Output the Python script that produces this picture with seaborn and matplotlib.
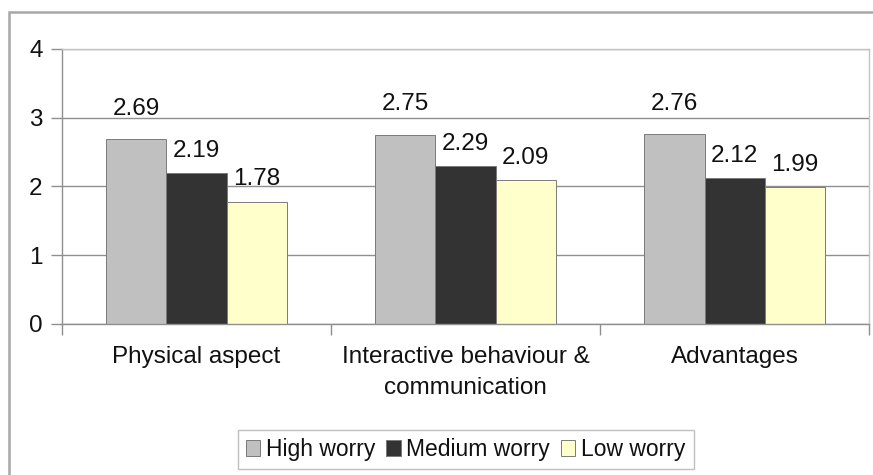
import pandas as pd
import matplotlib
matplotlib.use("Agg")
import matplotlib.pyplot as plt
from matplotlib.patches import Rectangle
import seaborn as sns

aspects = ["Physical aspect", "Interactive behaviour &\ncommunication", "Advantages"]
levels = ["High worry", "Medium worry", "Low worry"]
high = [2.69, 2.75, 2.76]
medium = [2.19, 2.29, 2.12]
low = [1.78, 2.09, 1.99]
colors = ["#c0c0c0", "#333333", "#ffffcc"]

data = pd.DataFrame({
    "aspect": aspects * 3,
    "level": [levels[0]] * 3 + [levels[1]] * 3 + [levels[2]] * 3,
    "score": high + medium + low,
})

sns.set_style("white")
plt.rcParams["font.family"] = ["Liberation Sans", "DejaVu Sans"]
fs = 17.5

fig = plt.figure(figsize=(8.73, 4.75), dpi=100)
ax = fig.add_axes([0.071, 0.318, 0.9245, 0.579])

sns.barplot(data=data, x="aspect", y="score", hue="level", palette=colors,
            saturation=1, width=0.67, edgecolor="#7a7a7a", linewidth=0.7,
            ax=ax, legend=True)

# value labels above bars
pads = [14, 8, 8]
for cont, pad in zip(ax.containers, pads):
    ax.bar_label(cont, fmt="%.2f", padding=pad, fontsize=fs, color="#111111")

ax.set_ylim(0, 4)
ax.set_xlim(-0.5, 2.5)
ax.set_yticks([0, 1, 2, 3, 4])
ax.yaxis.grid(True, color="#8f8f8f", linewidth=1)
ax.set_axisbelow(True)
ax.set_xlabel("")
ax.set_ylabel("")

ax.tick_params(axis="y", labelsize=fs, length=8, width=1, color="#8f8f8f",
               left=True, pad=6, labelcolor="#111111")
ax.tick_params(axis="x", which="major", labelsize=fs, length=0, pad=16,
               labelcolor="#111111")
ax.set_xticks([-0.5, 0.5, 1.5, 2.5], minor=True)
ax.tick_params(axis="x", which="minor", length=8, width=1, color="#8f8f8f", bottom=True)
for lbl in ax.get_xticklabels():
    lbl.set_linespacing(1.5)

for side in ["left", "bottom"]:
    ax.spines[side].set_color("#8f8f8f")
    ax.spines[side].set_linewidth(1)
for side in ["top", "right"]:
    ax.spines[side].set_color("#c4c4c4")
    ax.spines[side].set_linewidth(1)

leg = ax.legend(loc="center", bbox_to_anchor=(0.5, -0.457), ncol=3, fontsize=16.5,
                frameon=True, fancybox=False, edgecolor="#b0b0b0",
                handlelength=0.65, handleheight=0.65, handletextpad=0.25,
                columnspacing=0.45, borderpad=0.35, borderaxespad=0)
leg.get_frame().set_linewidth(1)
for t in leg.get_texts():
    t.set_color("#111111")

# outer chart border (runs off the right and bottom edge)
fig.patches.append(Rectangle((9 / 873, -0.1), 1.2, 1.1 - 12 / 475,
                             transform=fig.transFigure, fill=False,
                             edgecolor="#a8a8a8", linewidth=1.8, zorder=0))

fig.savefig("out.png", dpi=100)
